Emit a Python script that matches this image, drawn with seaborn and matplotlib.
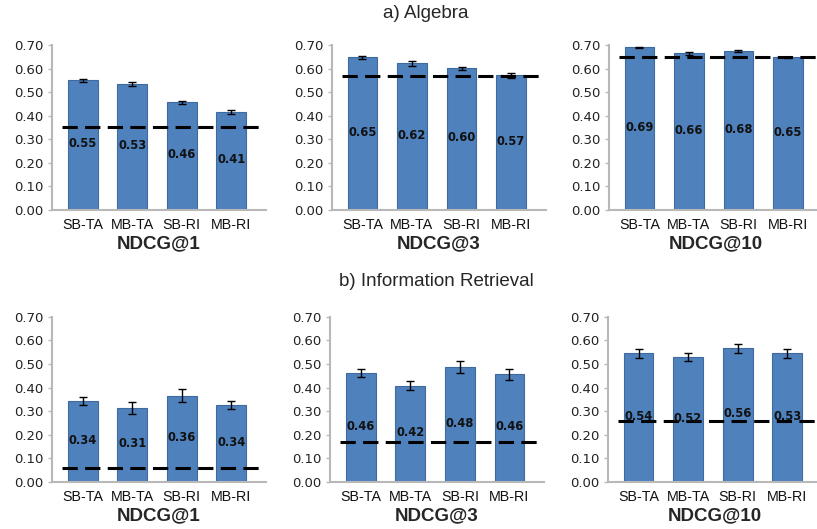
import numpy as np
import pandas as pd
import seaborn as sns
import matplotlib.pyplot as plt


metodos = ['SB-TA', 'MB-TA', 'SB-RI', 'MB-RI']
metricas = ['NDCG@1', 'NDCG@3', 'NDCG@10']

# a) Algebra
alg_valores = [[0.550, 0.534, 0.457, 0.416],
               [0.648, 0.622, 0.601, 0.572],
               [0.690, 0.664, 0.675, 0.647]]
alg_erros = [[0.006, 0.009, 0.006, 0.010],
             [0.006, 0.010, 0.007, 0.010],
             [0.003, 0.005, 0.005, 0.004]]
alg_rotulos = [['0.55', '0.53', '0.46', '0.41'],
               ['0.65', '0.62', '0.60', '0.57'],
               ['0.69', '0.66', '0.68', '0.65']]
alg_baseline = [0.350, 0.567, 0.648]

# b) Information Retrieval
ir_valores = [[0.342, 0.315, 0.366, 0.328],
              [0.462, 0.408, 0.488, 0.456],
              [0.545, 0.530, 0.567, 0.545]]
ir_erros = [[0.017, 0.025, 0.027, 0.017],
            [0.016, 0.019, 0.024, 0.022],
            [0.020, 0.018, 0.020, 0.018]]
ir_rotulos = [['0.34', '0.31', '0.36', '0.34'],
              ['0.46', '0.42', '0.48', '0.46'],
              ['0.54', '0.52', '0.56', '0.53']]
ir_baseline = [0.060, 0.168, 0.258]

azul = '#4f81bd'
borda = '#3f6a9e'
cinza = '#b8b8b8'

sns.set_style('white')
plt.rcParams['font.family'] = ['DejaVu Sans']


def grafico_barras(ax, valores, erros, rotulos, baseline, metrica):
    sns.barplot(x=metodos, y=valores, color=azul, saturation=1, width=0.6,
                edgecolor=borda, linewidth=0.8, ax=ax)

    ax.errorbar(range(len(metodos)), valores, yerr=erros, fmt='none',
                ecolor='black', elinewidth=1, capsize=3, capthick=1, zorder=3)

    # linha de referencia tracejada
    ax.plot([-0.42, 3.6], [baseline, baseline], color='black', lw=2.2,
            ls=(0, (5, 2.4)), zorder=4)

    # rotulos no meio das barras
    for i, (v, r) in enumerate(zip(valores, rotulos)):
        ax.text(i, v / 2 + 0.005, r, ha='center', va='center', fontsize=8.3,
                fontweight='bold', color='#111111', zorder=5)

    ax.set_ylim(0, 0.70)
    ax.set_xlim(-0.62, 3.7)
    ax.set_yticks(np.arange(0, 0.71, 0.1))
    ax.set_yticklabels([f'{t:.2f}' for t in np.arange(0, 0.71, 0.1)],
                       fontsize=9.5, color='#222222')
    ax.set_xticks(range(len(metodos)))
    ax.set_xticklabels(metodos, fontsize=10.3, family='Liberation Sans',
                       color='#111111')
    ax.tick_params(axis='y', length=3, width=1, color=cinza, pad=3, left=True)
    ax.tick_params(axis='x', length=0, pad=6)

    ax.set_xlabel(metrica, fontsize=13.5, family='Liberation Sans',
                  fontweight='bold', labelpad=2)
    ax.set_ylabel('')

    ax.spines['top'].set_visible(False)
    ax.spines['right'].set_visible(False)
    for lado in ['left', 'bottom']:
        ax.spines[lado].set_color(cinza)
        ax.spines[lado].set_linewidth(1.5)


fig = plt.figure(figsize=(8.17, 5.29), dpi=100)

esquerdas = [[0.0636, 0.406, 0.745], [0.0636, 0.404, 0.744]]
baixos = [0.603, 0.089]

for linha, (valores, erros, rotulos, baseline) in enumerate(
        [(alg_valores, alg_erros, alg_rotulos, alg_baseline),
         (ir_valores, ir_erros, ir_rotulos, ir_baseline)]):
    for col in range(3):
        ax = fig.add_axes([esquerdas[linha][col], baixos[linha], 0.262, 0.312])
        grafico_barras(ax, valores[col], erros[col], rotulos[col],
                       baseline[col], metricas[col])

fig.text(0.521, 0.975, 'a) Algebra', ha='center', va='center', fontsize=13.5,
         family='Liberation Sans')
fig.text(0.534, 0.467, 'b) Information Retrieval', ha='center', va='center',
         fontsize=13.5, family='Liberation Sans')

fig.savefig('out.png', dpi=100)
